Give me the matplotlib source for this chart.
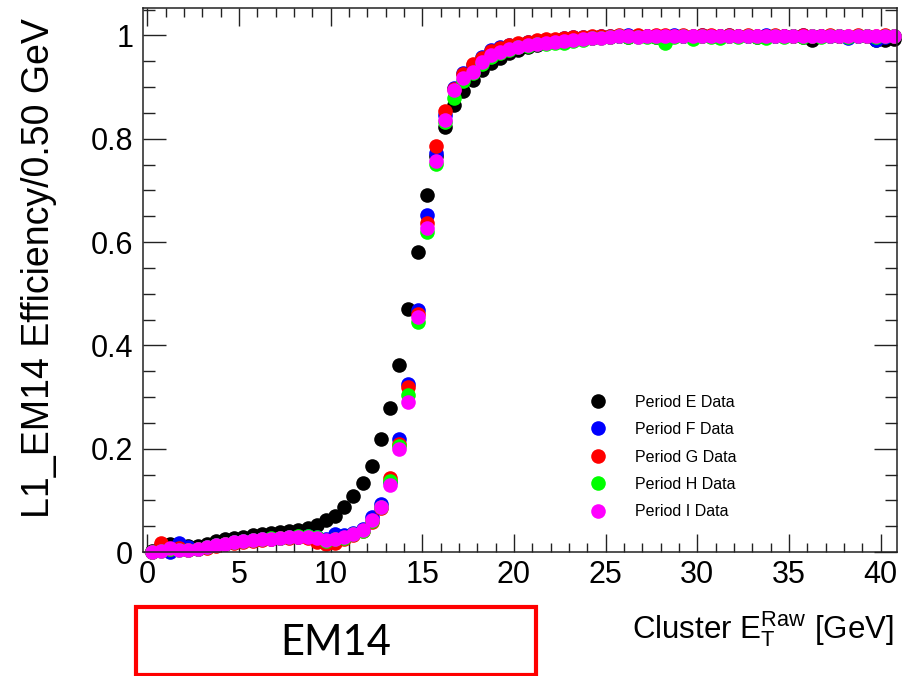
import numpy as np
import matplotlib
matplotlib.use("Agg")
import matplotlib.pyplot as plt
from matplotlib.patches import Rectangle
from matplotlib.lines import Line2D
from matplotlib.ticker import MultipleLocator, FuncFormatter

plt.rcParams['font.family'] = ['Liberation Sans', 'DejaVu Sans']
plt.rcParams['mathtext.fontset'] = 'custom'
plt.rcParams['mathtext.rm'] = 'Liberation Sans'
plt.rcParams['mathtext.it'] = 'Liberation Sans:italic'
plt.rcParams['mathtext.bf'] = 'Liberation Sans:bold'

# ---- data: L1_EM14 efficiency per 0.5 GeV bin of raw cluster E_T ----
BIN_WIDTH = 0.5
N_BINS = 82
et_centers = (np.arange(N_BINS) + 0.5) * BIN_WIDTH

period_labels = ["Period E Data", "Period F Data", "Period G Data",
                 "Period H Data", "Period I Data"]
period_colors = ["#000000", "#0000ff", "#ff0000", "#00ff00", "#ff00ff"]

eff_E = [0.002, 0.014, 0.015, 0.013, 0.012, 0.011, 0.016, 0.021, 0.025, 0.028,
         0.030, 0.032, 0.034, 0.036, 0.038, 0.040, 0.043, 0.046, 0.052, 0.061,
         0.069, 0.087, 0.108, 0.134, 0.166, 0.219, 0.278, 0.362, 0.470, 0.580,
         0.691, 0.766, 0.822, 0.865, 0.893, 0.914, 0.933, 0.946, 0.957, 0.965,
         0.972, 0.977, 0.981, 0.985, 0.988, 0.990, 0.992, 0.994, 0.995, 0.996,
         0.997, 0.998, 0.997, 0.998, 0.998, 0.997, 0.998, 0.999, 0.998, 0.997,
         0.998, 0.999, 0.998, 0.998, 0.999, 0.998, 0.997, 0.998, 0.999, 0.998,
         0.998, 0.997, 0.991, 0.998, 0.999, 0.998, 0.997, 0.998, 0.999, 0.992,
         0.991, 0.993]

eff_F = [0.000, 0.004, 0.000, 0.018, 0.010, 0.006, 0.009, 0.013, 0.016, 0.019,
         0.021, 0.023, 0.025, 0.026, 0.027, 0.029, 0.030, 0.031, 0.030, 0.025,
         0.035, 0.032, 0.036, 0.045, 0.067, 0.093, 0.135, 0.219, 0.326, 0.468,
         0.652, 0.772, 0.846, 0.898, 0.927, 0.943, 0.959, 0.972, 0.977, 0.981,
         0.984, 0.987, 0.989, 0.991, 0.992, 0.994, 0.996, 0.996, 0.997, 0.998,
         0.999, 0.998, 1.000, 0.999, 0.999, 0.998, 0.999, 1.000, 0.999, 0.999,
         1.000, 0.999, 0.999, 1.000, 0.999, 0.998, 0.999, 1.000, 0.999, 0.999,
         0.999, 1.000, 0.999, 0.999, 0.998, 0.999, 0.995, 0.999, 0.999, 0.992,
         0.996, 0.998]

eff_G = [0.000, 0.017, 0.006, 0.008, 0.004, 0.005, 0.008, 0.012, 0.015, 0.018,
         0.020, 0.022, 0.024, 0.025, 0.027, 0.028, 0.029, 0.028, 0.020, 0.015,
         0.018, 0.025, 0.033, 0.040, 0.058, 0.086, 0.144, 0.210, 0.319, 0.460,
         0.636, 0.786, 0.854, 0.896, 0.925, 0.945, 0.957, 0.969, 0.976, 0.981,
         0.985, 0.988, 0.991, 0.993, 0.993, 0.995, 0.996, 0.997, 0.998, 0.998,
         0.999, 1.000, 0.999, 1.000, 0.999, 1.000, 1.000, 0.999, 1.000, 0.999,
         1.000, 1.000, 0.999, 1.000, 0.999, 1.000, 0.999, 0.999, 1.000, 0.999,
         0.998, 1.000, 0.999, 0.999, 1.000, 0.999, 0.999, 1.000, 0.999, 0.999,
         1.000, 0.999]

eff_H = [0.000, 0.002, 0.005, 0.004, 0.003, 0.006, 0.010, 0.013, 0.016, 0.019,
         0.022, 0.024, 0.026, 0.027, 0.028, 0.030, 0.031, 0.031, 0.029, 0.022,
         0.025, 0.028, 0.034, 0.041, 0.060, 0.087, 0.137, 0.205, 0.303, 0.445,
         0.620, 0.752, 0.832, 0.878, 0.912, 0.928, 0.944, 0.958, 0.965, 0.972,
         0.977, 0.980, 0.983, 0.984, 0.985, 0.986, 0.990, 0.992, 0.994, 0.995,
         0.996, 0.998, 0.997, 0.997, 0.997, 0.996, 0.985, 0.997, 0.998, 0.993,
         0.998, 0.997, 0.994, 0.998, 0.997, 0.998, 0.997, 0.994, 0.998, 0.997,
         0.998, 0.997, 0.998, 0.997, 0.998, 0.998, 0.997, 0.998, 0.998, 0.997,
         0.998, 0.998]

eff_I = [0.000, 0.002, 0.008, 0.004, 0.003, 0.005, 0.009, 0.013, 0.016, 0.019,
         0.021, 0.023, 0.025, 0.026, 0.027, 0.029, 0.030, 0.030, 0.028, 0.023,
         0.026, 0.030, 0.035, 0.042, 0.061, 0.088, 0.129, 0.199, 0.290, 0.455,
         0.628, 0.757, 0.836, 0.894, 0.917, 0.930, 0.949, 0.962, 0.968, 0.974,
         0.978, 0.981, 0.984, 0.986, 0.988, 0.989, 0.991, 0.993, 0.994, 0.995,
         0.997, 0.998, 0.998, 0.997, 0.998, 0.998, 0.998, 0.999, 0.998, 0.998,
         0.998, 0.999, 0.998, 0.998, 0.999, 0.998, 0.998, 0.999, 0.998, 0.998,
         0.999, 0.998, 0.998, 0.998, 0.999, 0.998, 0.998, 0.999, 0.998, 0.998,
         0.999, 0.998]

series = [eff_E, eff_F, eff_G, eff_H, eff_I]

# ---- figure ----
W, H = 908, 676
fig = plt.figure(figsize=(W / 100, H / 100), dpi=100)
ax_l, ax_r, ax_t, ax_b = 143, 897, 8, 552
ax = fig.add_axes([ax_l / W, 1 - ax_b / H, (ax_r - ax_l) / W, (ax_b - ax_t) / H])

MS = 10.5
for vals, col, lab in zip(series, period_colors, period_labels):
    ax.plot(et_centers, vals, linestyle='none', marker='o', ms=MS,
            mew=0, color=col, label=lab, clip_on=False)

ax.set_xlim(-0.23, 40.9)
ax.set_ylim(0.0, 1.053)

ax.xaxis.set_major_locator(MultipleLocator(5))
ax.xaxis.set_minor_locator(MultipleLocator(1))
ax.yaxis.set_major_locator(MultipleLocator(0.2))
ax.yaxis.set_minor_locator(MultipleLocator(0.05))
ax.yaxis.set_major_formatter(FuncFormatter(lambda v, p: f"{v:g}"))
ax.xaxis.set_major_formatter(FuncFormatter(lambda v, p: f"{v:g}"))

ax.tick_params(which='both', direction='in', top=True, right=True,
               width=1.0, color='#222222', labelsize=22)
ax.tick_params(axis='x', which='major', length=12.7, pad=6)
ax.tick_params(axis='x', which='minor', length=6.5)
ax.tick_params(axis='y', which='major', length=16.6, pad=7)
ax.tick_params(axis='y', which='minor', length=8.6)
for sp in ax.spines.values():
    sp.set_linewidth(1.1)
    sp.set_color('#222222')

ax.set_ylabel("L1_EM14 Efficiency/0.50 GeV", fontsize=27, loc='top')
ax.yaxis.set_label_coords((57 - ax_l) / (ax_r - ax_l),
                          1 - (18 - ax_t) / (ax_b - ax_t))
ax.set_xlabel(r"Cluster $\mathrm{E}_{\mathrm{T}}^{\mathrm{Raw}}$ [GeV]",
              fontsize=22.5, loc='right')
ax.xaxis.set_label_coords((894 - ax_l) / (ax_r - ax_l),
                          -(609 - ax_b) / (ax_b - ax_t))

handles = [Line2D([], [], linestyle='none', marker='o', ms=MS, mew=0, color=c)
           for c in period_colors]
ax.legend(handles, period_labels, loc='center left',
          bbox_to_anchor=(590 / W, 1 - 457 / H), bbox_transform=fig.transFigure,
          frameon=False, fontsize=11.5, handlelength=1.0, handletextpad=1.8,
          labelspacing=0.78, borderpad=0, borderaxespad=0)

# trigger item label box below the axis
fig.patches.append(Rectangle((136 / W, 1 - 675 / H), 400 / W, (675 - 607) / H,
                             transform=fig.transFigure, fill=False,
                             edgecolor='#ff0000', linewidth=3))
fig.text(336 / W, 1 - 643 / H, "EM14", ha='center', va='center',
         fontsize=30, family=['Lato', 'DejaVu Sans'])

fig.savefig("out.png", dpi=100)
